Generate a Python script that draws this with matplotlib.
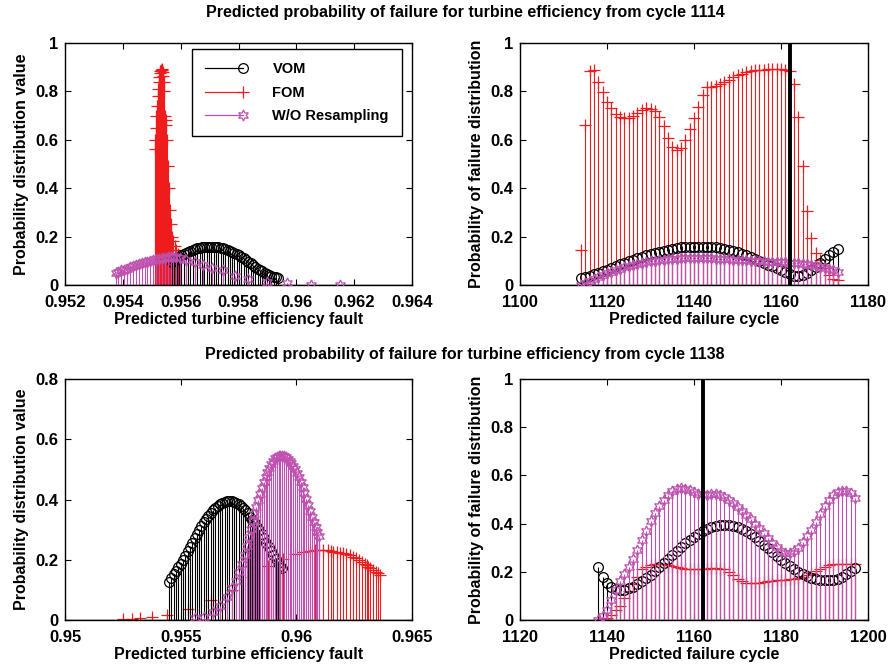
import numpy as np
import matplotlib
matplotlib.use("Agg")
import matplotlib.pyplot as plt
from matplotlib.lines import Line2D
from matplotlib.legend_handler import HandlerBase
from matplotlib.ticker import FuncFormatter

plt.rcParams['font.family'] = ['Liberation Sans', 'DejaVu Sans']
plt.rcParams['font.weight'] = 'bold'

# ---------------- data ----------------
title_top = "Predicted probability of failure for turbine efficiency from cycle 1114"
title_bot = "Predicted probability of failure for turbine efficiency from cycle 1138"
series_names = ["VOM", "FOM", "W/O Resampling"]

# Panel 1 (top-left): predicted turbine efficiency fault
p1_vom_x = [0.95570, 0.95578, 0.95586, 0.95594, 0.95602, 0.95610, 0.95618, 0.95626, 0.95634, 0.95642,
            0.95650, 0.95658, 0.95666, 0.95674, 0.95682, 0.95690, 0.95698, 0.95706, 0.95714, 0.95722,
            0.95730, 0.95738, 0.95746, 0.95754, 0.95762, 0.95770, 0.95778, 0.95786, 0.95794, 0.95802,
            0.95810, 0.95818, 0.95826, 0.95834, 0.95842, 0.95850, 0.95858, 0.95866, 0.95874, 0.95882,
            0.95890, 0.95898, 0.95906, 0.95914, 0.95922, 0.95930, 0.95938]
p1_vom_y = [0.095, 0.102, 0.109, 0.116, 0.122, 0.127, 0.132, 0.137, 0.141, 0.145,
            0.148, 0.151, 0.153, 0.155, 0.156, 0.157, 0.158, 0.158, 0.158, 0.157,
            0.156, 0.154, 0.152, 0.149, 0.146, 0.142, 0.138, 0.133, 0.128, 0.122,
            0.116, 0.110, 0.103, 0.096, 0.089, 0.082, 0.075, 0.068, 0.062, 0.056,
            0.050, 0.045, 0.040, 0.036, 0.033, 0.031, 0.030]
p1_fom_x = [0.95510, 0.95512, 0.95514, 0.95516, 0.95518, 0.95520, 0.95522, 0.95524, 0.95526, 0.95528,
            0.95530, 0.95532, 0.95534, 0.95536, 0.95538, 0.95540, 0.95542, 0.95544, 0.95546, 0.95548,
            0.95550, 0.95553, 0.95556, 0.95560, 0.95563, 0.95567, 0.95570, 0.95575, 0.95580, 0.95585,
            0.95590]
p1_fom_y = [0.56, 0.60, 0.65, 0.70, 0.74, 0.78, 0.81, 0.84, 0.86, 0.875,
            0.885, 0.89, 0.892, 0.888, 0.88, 0.865, 0.84, 0.80, 0.70, 0.68,
            0.66, 0.60, 0.49, 0.40, 0.31, 0.25, 0.20, 0.18, 0.16, 0.145,
            0.13]
p1_wo_x = [0.95375, 0.95385, 0.95395, 0.95405, 0.95415, 0.95425, 0.95435, 0.95445, 0.95455, 0.95465,
           0.95475, 0.95485, 0.95495, 0.95505, 0.95515, 0.95525, 0.95535, 0.95545, 0.95555, 0.95565,
           0.95575, 0.95585, 0.95598, 0.95620, 0.95650, 0.95677, 0.95710, 0.95745, 0.95788, 0.95833,
           0.95897, 0.95967, 0.96050, 0.96150]
p1_wo_y = [0.050, 0.055, 0.060, 0.064, 0.068, 0.073, 0.077, 0.081, 0.085, 0.089,
           0.093, 0.097, 0.100, 0.103, 0.106, 0.109, 0.111, 0.113, 0.115, 0.116,
           0.116, 0.115, 0.110, 0.103, 0.094, 0.083, 0.072, 0.060, 0.037, 0.023,
           0.014, 0.007, 0.002, 0.000]

# Panel 2 (top-right): predicted failure cycle, from cycle 1114
p2_cycles = np.arange(1114, 1174)
p2_vom = [0.030, 0.034, 0.039, 0.044, 0.050, 0.057, 0.064, 0.071, 0.078, 0.085,
          0.092, 0.099, 0.105, 0.111, 0.117, 0.123, 0.128, 0.133, 0.138, 0.142,
          0.146, 0.150, 0.153, 0.155, 0.157, 0.158, 0.159, 0.159, 0.159, 0.158,
          0.157, 0.155, 0.152, 0.149, 0.145, 0.140, 0.135, 0.129, 0.122, 0.115,
          0.107, 0.099, 0.090, 0.084, 0.078, 0.070, 0.062, 0.054, 0.045, 0.038,
          0.036, 0.040, 0.048, 0.060, 0.075, 0.090, 0.106, 0.122, 0.137, 0.150]
p2_fom = [0.145, 0.660, 0.883, 0.887, 0.840, 0.797, 0.756, 0.731, 0.708, 0.694,
          0.690, 0.690, 0.700, 0.710, 0.724, 0.731, 0.727, 0.717, 0.694, 0.655,
          0.607, 0.570, 0.556, 0.566, 0.600, 0.644, 0.690, 0.734, 0.786, 0.820,
          0.818, 0.823, 0.830, 0.837, 0.848, 0.858, 0.866, 0.873, 0.880, 0.884,
          0.887, 0.888, 0.890, 0.891, 0.892, 0.892, 0.892, 0.890, 0.883, 0.830,
          0.694, 0.490, 0.306, 0.196, 0.131, 0.103, 0.069, 0.041, 0.023, 0.020]
p2_wo = [0.000, 0.008, 0.016, 0.024, 0.032, 0.040, 0.048, 0.055, 0.062, 0.068,
         0.074, 0.079, 0.084, 0.088, 0.092, 0.095, 0.098, 0.101, 0.103, 0.105,
         0.107, 0.108, 0.109, 0.110, 0.111, 0.111, 0.111, 0.111, 0.111, 0.110,
         0.110, 0.109, 0.108, 0.107, 0.106, 0.105, 0.104, 0.103, 0.102, 0.101,
         0.100, 0.099, 0.098, 0.097, 0.096, 0.095, 0.094, 0.093, 0.092, 0.091,
         0.090, 0.088, 0.086, 0.083, 0.080, 0.076, 0.072, 0.067, 0.061, 0.054]
p2_vline = 1162

# Panel 3 (bottom-left)
p3_vom_x = [0.9545, 0.9546, 0.9547, 0.9548, 0.9549, 0.9550, 0.9551, 0.9552, 0.9553, 0.9554,
            0.9555, 0.9556, 0.9557, 0.9558, 0.9559, 0.9560, 0.9561, 0.9562, 0.9563, 0.9564,
            0.9565, 0.9566, 0.9567, 0.9568, 0.9569, 0.9570, 0.9571, 0.9572, 0.9573, 0.9574,
            0.9575, 0.9576, 0.9577, 0.9578, 0.9579, 0.9580, 0.9581, 0.9582, 0.9583, 0.9584,
            0.9585, 0.9586, 0.9587, 0.9588, 0.9589, 0.9590, 0.9591, 0.9592, 0.9593, 0.9594]
p3_vom_y = [0.125, 0.140, 0.152, 0.163, 0.175, 0.187, 0.200, 0.214, 0.228, 0.242,
            0.257, 0.271, 0.286, 0.300, 0.313, 0.325, 0.336, 0.346, 0.356, 0.364,
            0.372, 0.379, 0.385, 0.389, 0.392, 0.394, 0.395, 0.394, 0.392, 0.389,
            0.385, 0.379, 0.372, 0.364, 0.354, 0.343, 0.333, 0.322, 0.310, 0.298,
            0.285, 0.271, 0.257, 0.243, 0.229, 0.215, 0.202, 0.190, 0.180, 0.171]
p3_fom_x = [0.95252, 0.95288, 0.95324, 0.95375, 0.95440, 0.95533, 0.95630, 0.95720, 0.95810, 0.95879,
            0.95944, 0.95994, 0.96030, 0.96060, 0.96080, 0.96100, 0.96117, 0.96135, 0.96150, 0.96160,
            0.96175, 0.96190, 0.96203, 0.96215, 0.96230, 0.96246, 0.96258, 0.96270, 0.96283, 0.96295,
            0.96305, 0.96311, 0.96320, 0.96333, 0.96345, 0.96355, 0.96362]
p3_fom_y = [0.002, 0.003, 0.005, 0.009, 0.017, 0.035, 0.066, 0.100, 0.144, 0.180,
            0.203, 0.219, 0.227, 0.230, 0.231, 0.232, 0.232, 0.231, 0.229, 0.227,
            0.225, 0.223, 0.222, 0.219, 0.215, 0.210, 0.205, 0.200, 0.194, 0.187,
            0.181, 0.177, 0.172, 0.166, 0.160, 0.155, 0.150]
p3_wo_x = [0.95562, 0.95600, 0.95640, 0.95670, 0.95700, 0.95722, 0.95738, 0.95752, 0.95764, 0.95776,
           0.95786, 0.95795, 0.95803, 0.95811, 0.95819, 0.95827, 0.95835, 0.95843, 0.95851, 0.95859,
           0.95867, 0.95875, 0.95883, 0.95891, 0.95899, 0.95907, 0.95915, 0.95923, 0.95931, 0.95939,
           0.95947, 0.95955, 0.95963, 0.95971, 0.95979, 0.95987, 0.95995, 0.96003, 0.96011, 0.96019,
           0.96027, 0.96035, 0.96043, 0.96051, 0.96059, 0.96067, 0.96075, 0.96083, 0.96091, 0.96099]
p3_wo_y = [0.005, 0.010, 0.025, 0.045, 0.075, 0.105, 0.130, 0.160, 0.185, 0.215,
           0.245, 0.275, 0.302, 0.330, 0.352, 0.375, 0.397, 0.418, 0.438, 0.457,
           0.474, 0.490, 0.505, 0.518, 0.529, 0.537, 0.542, 0.545, 0.546, 0.545,
           0.543, 0.540, 0.535, 0.528, 0.520, 0.511, 0.500, 0.488, 0.474, 0.458,
           0.441, 0.422, 0.402, 0.382, 0.362, 0.343, 0.325, 0.308, 0.292, 0.280]

# Panel 4 (bottom-right): from cycle 1138
p4_cycles = np.arange(1138, 1198)
p4_vom = [0.220, 0.180, 0.152, 0.137, 0.128, 0.125, 0.126, 0.131, 0.139, 0.149,
          0.160, 0.173, 0.187, 0.202, 0.218, 0.235, 0.252, 0.269, 0.286, 0.302,
          0.318, 0.332, 0.346, 0.358, 0.369, 0.378, 0.386, 0.391, 0.394, 0.395,
          0.394, 0.391, 0.386, 0.378, 0.368, 0.356, 0.343, 0.328, 0.313, 0.297,
          0.281, 0.265, 0.250, 0.236, 0.222, 0.210, 0.199, 0.190, 0.182, 0.176,
          0.171, 0.168, 0.166, 0.166, 0.168, 0.172, 0.179, 0.190, 0.203, 0.217]
p4_fom = [0.000, 0.005, 0.010, 0.020, 0.040, 0.060, 0.090, 0.120, 0.150, 0.180,
          0.210, 0.220, 0.228, 0.232, 0.233, 0.232, 0.230, 0.225, 0.220, 0.215,
          0.212, 0.210, 0.210, 0.210, 0.210, 0.212, 0.215, 0.215, 0.213, 0.210,
          0.200, 0.185, 0.170, 0.160, 0.153, 0.152, 0.152, 0.153, 0.156, 0.160,
          0.163, 0.165, 0.167, 0.168, 0.169, 0.170, 0.173, 0.180, 0.188, 0.197,
          0.205, 0.212, 0.220, 0.228, 0.232, 0.233, 0.233, 0.233, 0.233, 0.232]
p4_wo = [0.000, 0.015, 0.040, 0.083, 0.125, 0.160, 0.190, 0.220, 0.255, 0.290,
         0.330, 0.370, 0.410, 0.445, 0.475, 0.500, 0.520, 0.535, 0.543, 0.546,
         0.544, 0.538, 0.530, 0.524, 0.521, 0.520, 0.521, 0.522, 0.520, 0.512,
         0.500, 0.485, 0.468, 0.452, 0.435, 0.418, 0.400, 0.380, 0.360, 0.340,
         0.320, 0.302, 0.288, 0.280, 0.278, 0.285, 0.300, 0.322, 0.348, 0.375,
         0.405, 0.440, 0.472, 0.500, 0.520, 0.532, 0.536, 0.534, 0.525, 0.508]
p4_vline = 1162

# ---------------- style ----------------
C_VOM = "#000000"
C_FOM = "#ee1c1c"
C_WO = "#bf50b0"
STAR = (6, 1, 0)

fig = plt.figure(figsize=(8.93, 6.72), dpi=100)
W, H = 893.0, 672.0


def add_ax(l, t, r, b):
    return fig.add_axes([l / W, 1 - b / H, (r - l) / W, (b - t) / H])


ax1 = add_ax(65, 43, 412, 285)
ax2 = add_ax(520, 43, 868, 285)
ax3 = add_ax(65, 379, 412, 620)
ax4 = add_ax(520, 379, 868, 620)


def stem(ax, x, y, color, marker, ms, lw=0.8, mew=0.9, z=2):
    ax.vlines(x, 0, y, colors=color, linewidth=lw, zorder=z)
    ax.plot(x, y, linestyle='none', marker=marker, markersize=ms, markerfacecolor='none',
            markeredgecolor=color, markeredgewidth=mew, zorder=z + 0.1)


def draw(ax, vx, vy, fx, fy, wx, wy):
    stem(ax, fx, fy, C_FOM, '+', 8, z=2)
    stem(ax, vx, vy, C_VOM, 'o', 7, z=3)
    stem(ax, wx, wy, C_WO, STAR, 8, z=4)
    ax.axhline(0, color='black', lw=1.0, zorder=5)


draw(ax1, p1_vom_x, p1_vom_y, p1_fom_x, p1_fom_y, p1_wo_x, p1_wo_y)
draw(ax2, p2_cycles, p2_vom, p2_cycles, p2_fom, p2_cycles, p2_wo)
draw(ax3, p3_vom_x, p3_vom_y, p3_fom_x, p3_fom_y, p3_wo_x, p3_wo_y)
draw(ax4, p4_cycles, p4_vom, p4_cycles, p4_fom, p4_cycles, p4_wo)

ax2.axvline(p2_vline, color='black', lw=2.8, zorder=6)
ax4.axvline(p4_vline, color='black', lw=2.8, zorder=6)

fmt = FuncFormatter(lambda v, p: ("%g" % round(v, 6)))

ax1.set_xlim(0.952, 0.964); ax1.set_xticks([0.952, 0.954, 0.956, 0.958, 0.96, 0.962, 0.964])
ax1.set_ylim(0, 1); ax1.set_yticks([0, 0.2, 0.4, 0.6, 0.8, 1])
ax2.set_xlim(1100, 1180); ax2.set_xticks([1100, 1120, 1140, 1160, 1180])
ax2.set_ylim(0, 1); ax2.set_yticks([0, 0.2, 0.4, 0.6, 0.8, 1])
ax3.set_xlim(0.95, 0.965); ax3.set_xticks([0.95, 0.955, 0.96, 0.965])
ax3.set_ylim(0, 0.8); ax3.set_yticks([0, 0.2, 0.4, 0.6, 0.8])
ax4.set_xlim(1120, 1200); ax4.set_xticks([1120, 1140, 1160, 1180, 1200])
ax4.set_ylim(0, 1); ax4.set_yticks([0, 0.2, 0.4, 0.6, 0.8, 1])

for ax in (ax1, ax2, ax3, ax4):
    ax.xaxis.set_major_formatter(fmt)
    ax.yaxis.set_major_formatter(fmt)
    ax.tick_params(direction='in', top=True, right=True, length=4, width=0.8,
                   labelsize=12)
    ax.tick_params(axis='x', pad=7)
    ax.tick_params(axis='y', pad=5)
    for lab in ax.get_xticklabels() + ax.get_yticklabels():
        lab.set_fontweight('bold')
    for s in ax.spines.values():
        s.set_linewidth(1.0)

LBL = dict(fontsize=11.5, fontweight='bold')
ax1.set_xlabel("Predicted turbine efficiency fault", labelpad=2, **LBL)
ax1.set_ylabel("Probability distribution value", labelpad=4, **LBL)
ax3.set_xlabel("Predicted turbine efficiency fault", labelpad=2, **LBL)
ax3.set_ylabel("Probability distribution value", labelpad=4, **LBL)
ax2.set_xlabel("Predicted failure cycle", labelpad=2, **LBL)
ax2.set_ylabel("Probability of failure distribution", labelpad=4, **LBL)
ax4.set_xlabel("Predicted failure cycle", labelpad=2, **LBL)
ax4.set_ylabel("Probability of failure distribution", labelpad=4, **LBL)

fig.text(465 / W, 1 - 12 / H, title_top, ha='center', va='center', fontsize=11.5, fontweight='bold')
fig.text(465 / W, 1 - 354 / H, title_bot, ha='center', va='center', fontsize=11.5, fontweight='bold')


class StemHandler(HandlerBase):
    def create_artists(self, legend, orig_handle, xdescent, ydescent, width, height,
                       fontsize, trans):
        y = height / 2.0 - ydescent
        ln = Line2D([-xdescent, width - xdescent], [y, y], color=orig_handle.get_color(), lw=0.9)
        mk = Line2D([width - xdescent], [y], linestyle='none', marker=orig_handle.get_marker(),
                    markersize=orig_handle.get_markersize(), markerfacecolor='none',
                    markeredgecolor=orig_handle.get_color(), markeredgewidth=0.9)
        ln.set_transform(trans)
        mk.set_transform(trans)
        return [ln, mk]


handles = [Line2D([], [], color=C_VOM, marker='o', markersize=7),
           Line2D([], [], color=C_FOM, marker='+', markersize=8),
           Line2D([], [], color=C_WO, marker=STAR, markersize=8)]
leg = ax1.legend(handles, series_names, loc='upper right', bbox_to_anchor=(0.971, 0.975),
                 borderaxespad=0.0,
                 handler_map={Line2D: StemHandler()}, fancybox=False, edgecolor='black',
                 framealpha=1, handlelength=2.6, labelspacing=0.65, borderpad=0.9,
                 handletextpad=2.0, prop=dict(weight='bold', size=10.5))
leg.get_frame().set_linewidth(1.0)
leg.set_zorder(10)

fig.savefig("out.png", dpi=100)
